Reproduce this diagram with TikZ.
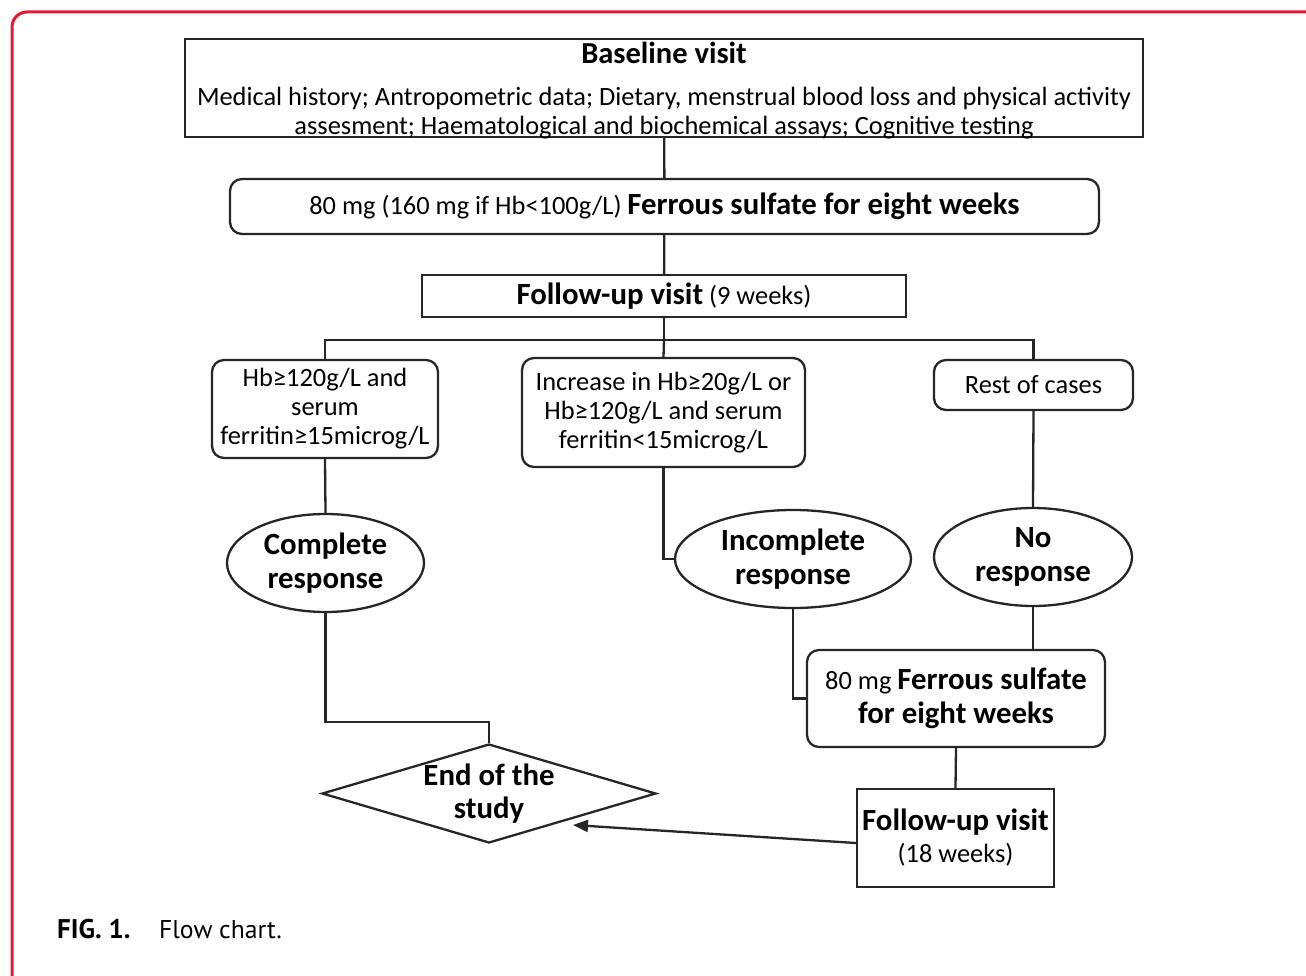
\documentclass[tikz,border=0pt]{standalone}
\usepackage{fontspec}
\setmainfont{Carlito}
\newfontfamily\capfont{PT Sans}
\usetikzlibrary{shapes.geometric,arrows.meta}
\definecolor{framered}{RGB}{228,25,55}
\newcommand{\bodysize}{\fontsize{26.4pt}{29pt}\selectfont}
\newcommand{\boldbig}{\fontsize{30.8pt}{34pt}\selectfont\bfseries}
\tikzset{
  ln/.style={line width=2.3pt, draw=black!85},
  sqbox/.style={ln, rectangle, inner sep=0pt, align=center},
  rbox/.style={ln, rectangle, rounded corners=12pt, inner sep=0pt, align=center},
  ell/.style={ln, ellipse, inner sep=0pt, align=center},
  dia/.style={ln, diamond, inner sep=0pt},
  txt/.style={font=\bodysize, align=center, inner sep=0pt},
  btxt/.style={font=\boldbig, align=center, inner sep=0pt},
}
\begin{document}
\begin{tikzpicture}[x=1pt,y=-1pt]
\useasboundingbox (0,0) rectangle (1306,976);
% red frame
\draw[framered, line width=3pt, rounded corners=15pt] (12,995) -- (12,12) -- (1325,12);

% baseline visit
\node[sqbox, minimum width=958pt, minimum height=98pt] (base) at (664,88) {};
\node[txt, font=\fontsize{30.5pt}{32pt}\selectfont\bfseries] (basetitle) at (664,53) {Baseline visit};
\node[txt] (basetext) at (664,113) {Medical history; Antropometric data; Dietary, menstrual blood loss and physical activity\\assesment; Haematological and biochemical assays; Cognitive testing};

% ferrous sulfate
\node[rbox, minimum width=869pt, minimum height=55pt, font=\bodysize] (fs1) at (664.5,206.5) {80 mg (160 mg if Hb<100g/L) {\boldbig Ferrous sulfate for eight weeks}};

% follow-up visit 9 weeks
\node[sqbox, minimum width=484pt, minimum height=42pt, font=\bodysize] (fu1) at (664,296) {{\boldbig Follow-up visit} (9 weeks)};

% criteria boxes
\node[rbox, minimum width=226pt, minimum height=98pt, txt, draw] (b1) at (325,409) {Hb≥120g/L and\\serum\\ferritin≥15microg/L};
\node[rbox, minimum width=283pt, minimum height=109pt, txt, draw] (b2) at (663.5,412.5) {Increase in Hb≥20g/L or\\Hb≥120g/L and serum\\ferritin<15microg/L};
\node[rbox, minimum width=199pt, minimum height=50pt, txt, draw] (b3) at (1033.5,385) {Rest of cases};

% responses
\node[ell, minimum width=197pt, minimum height=98pt, btxt, draw] (c1) at (325.5,563) {Complete\\response};
\node[ell, minimum width=236pt, minimum height=98pt, btxt, draw] (c2) at (793,559) {Incomplete\\response};
\node[ell, minimum width=198pt, minimum height=98pt, btxt, draw] (c3) at (1033,557) {No\\response};

% end of study
\node[dia, minimum width=334pt, minimum height=99pt, label={[btxt, font=\fontsize{30.8pt}{33pt}\selectfont\bfseries]center:{End of the\\study}}] (end) at (489,793.5) {};

% second ferrous sulfate
\node[rbox, minimum width=298pt, minimum height=97pt, font=\fontsize{26.4pt}{34pt}\selectfont] (fs2) at (956,698.5) {80 mg {\boldbig Ferrous sulfate}\\{\boldbig for eight weeks}};

% follow-up 18 weeks
\node[sqbox, minimum width=197pt, minimum height=98pt, font=\fontsize{26.4pt}{32pt}\selectfont] (fu2) at (955.5,838) {{\fontsize{30.8pt}{32pt}\selectfont\bfseries Follow-up visit}\\(18 weeks)};

% connectors
\coordinate (split) at (664,340);
\coordinate (endtop) at (489,722);
\coordinate (arrowend) at (573,825);
\draw[ln] (base) -- (fs1);
\draw[ln] (fs1) -- (fu1);
\draw[ln] (fu1.south) -- (split);
\draw[ln] (split) -| (b1.north);
\draw[ln] (split) -| (b3.north);
\draw[ln] (split) -- (b2.north);
\draw[ln] (b1.south) -- (c1.north);
\draw[ln] (b3.south) -- (c3.north);
\draw[ln] (b2.south) |- (c2.west);
\draw[ln] (c1.south) |- (endtop) -- (end.north);
\draw[ln] (c2.south) |- (fs2.west);
\draw[ln] (c3.south) -- (c3.south |- fs2.north);
\draw[ln] (fs2.south) -- (fu2.north);
\draw[ln, -{Triangle[length=15pt,width=12pt]}] ([yshift=-5pt]fu2.west) -- (arrowend);

% caption
\node[anchor=base west, inner sep=0pt, font=\capfont\fontsize{27pt}{30pt}\selectfont\bfseries] (figlabel) at (57,938) {FIG. 1.};
\node[anchor=base west, inner sep=0pt, font=\capfont\fontsize{25.7pt}{30pt}\selectfont] (figcap) at (159,938) {Flow chart.};
\end{tikzpicture}
\end{document}
